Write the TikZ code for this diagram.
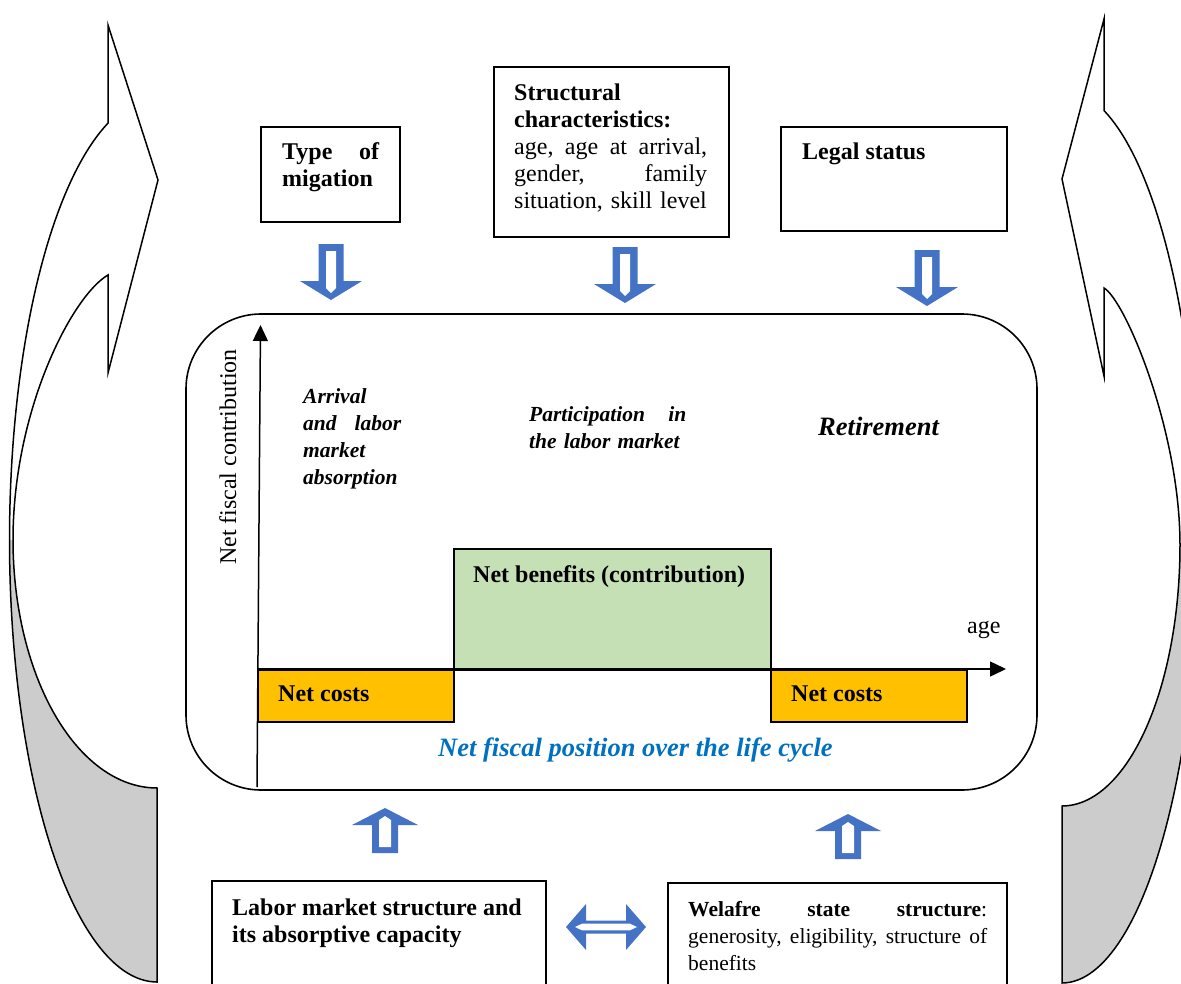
\documentclass[tikz,border=0pt]{standalone}
\usepackage{fontspec}
\setmainfont{Liberation Serif}
\usetikzlibrary{arrows.meta}
\definecolor{barrow}{HTML}{4472C4}
\definecolor{orng}{HTML}{FFC000}
\definecolor{grn}{HTML}{C5E0B4}
\definecolor{btext}{HTML}{0070C0}
\definecolor{backgray}{HTML}{CCCCCC}
\newcommand\fsA{\fontsize{24}{27}\selectfont}
\newcommand\fsB{\fontsize{21.5}{27}\selectfont}
\newcommand\fsC{\fontsize{26.5}{30}\selectfont}
\begin{document}
\begin{tikzpicture}[x=1pt,y=-1pt,line join=miter,
  box/.style={draw,line width=1.8pt,inner sep=0pt,anchor=north west},
  txt/.style={anchor=north west,inner sep=0pt,align=left,font=\fsA},
  itx/.style={anchor=north west,inner sep=0pt,align=left,font=\fsB\bfseries\itshape},
  lbl/.style={anchor=base west,inner sep=0pt,font=\fsA},
  lw/.style={line width=1.5pt},
  ax/.style={line width=1.5pt,-{Triangle[length=16pt,width=15pt]}}
]
\useasboundingbox (0,0) rectangle (1181,983);
\clip (0,0) rectangle (1181,983);

% ---------- left curved arrow ----------
\fill[backgray] plot[domain=180:90,samples=50,variable=\t] ({157+144*cos(\t)},{540+248*sin(\t)})
  -- plot[domain=90:180,samples=50,variable=\t] ({157+147.5*cos(\t)},{540+442*sin(\t)}) -- cycle;
\draw[lw] plot[domain=90:250.6,samples=100,variable=\t] ({157+147.5*cos(\t)},{540+442*sin(\t)})
  -- (108,25) -- (158,180) -- (108,373) -- (108,275)
  .. controls (72,296) and (13,410) .. (13,540)
  -- plot[domain=180:90,samples=50,variable=\t] ({157+144*cos(\t)},{540+248*sin(\t)}) -- cycle;

% ---------- right curved arrow ----------
\fill[backgray] plot[domain=0:90,samples=50,variable=\t] ({1062+118*cos(\t)},{545+261*sin(\t)})
  -- plot[domain=90:0,samples=50,variable=\t] ({1062+137*cos(\t)},{536+447*sin(\t)}) -- cycle;
\draw[lw] plot[domain=90:-72.1,samples=100,variable=\t] ({1062+137*cos(\t)},{536+447*sin(\t)})
  -- (1104,19) -- (1062,179) -- (1104,376) -- (1104,288)
  .. controls (1125,300) and (1180,430) .. (1180,545)
  -- plot[domain=0:90,samples=50,variable=\t] ({1062+118*cos(\t)},{545+261*sin(\t)}) -- cycle;

% ---------- top boxes ----------
\node[box,minimum width=139pt,minimum height=95pt] (tombox) at (260,126) {};
\node[txt,font=\fsA\bfseries,text width=97pt] (tomtxt) at (282,140.1) {\strut Type\hfill of\\migation};
\node[box,minimum width=235pt,minimum height=170pt] (scbox) at (493,66) {};
\node[txt,text width=193pt] (sctxt) at (514,81.1) {\strut\textbf{Structural}\\\textbf{characteristics:}\\age,\hfill age\hfill at\hfill arrival,\\gender,\hfill family\\situation, skill level};
\node[box,minimum width=226pt,minimum height=104pt] (lsbox) at (780,126) {};
\node[txt,font=\fsA\bfseries] (lstxt) at (802,140.1) {\strut Legal status};

% ---------- blue down arrows ----------
\foreach \cx/\ty in {331/244, 625/247, 927/250}{
  \begin{scope}[shift={(\cx,\ty)}]
    \fill[barrow] (-12.5,0) -- (12.5,0) -- (12.5,37) -- (31,37) -- (0,56) -- (-31,37) -- (-12.5,37) -- cycle;
    \fill[white] (-5,7) -- (5,7) -- (5,44) -- (0,49) -- (-5,44) -- cycle;
  \end{scope}
}

% ---------- main rounded frame ----------
\draw[line width=1.6pt,rounded corners=75pt] (186,314) rectangle (1037,790);

% ---------- bars ----------
\node[draw,lw,fill=orng,anchor=north west,minimum width=196pt,minimum height=52pt,inner sep=0pt] (nc1) at (257,669) {};
\node[draw,lw,fill=grn,anchor=north west,minimum width=317pt,minimum height=121pt,inner sep=0pt] (nb) at (453,548) {};
\node[draw,lw,fill=orng,anchor=north west,minimum width=196pt,minimum height=52pt,inner sep=0pt] (nc2) at (770,669) {};
\node[lbl] (nc1t) at (278,701) {\bfseries Net costs};
\node[lbl] (nc2t) at (791,701) {\bfseries Net costs};
\node[lbl] (nbt) at (473,582) {\bfseries Net benefits (contribution)};

% ---------- axes ----------
\coordinate (o) at (257,787);
\coordinate (ytop) at (260.5,325);
\coordinate (xs) at (257,669);
\coordinate (xe) at (1006,669);
\draw[ax] (o) -- (ytop);
\draw[ax] (xs) -- (xe);
\node[lbl] (agel) at (967,633) {age};
\node[rotate=90,anchor=base,inner sep=0pt,font=\fsA] (yl) at (236,457) {Net fiscal contribution};

% ---------- phase labels ----------
\node[itx,text width=98pt] (arr) at (303,384.1) {\strut Arrival\\and\hfill labor\\market\\absorption};
\node[itx,text width=157pt] (part) at (529,402.1) {\strut Participation\hfill in\\the labor market};
\node[anchor=base west,inner sep=0pt,font=\fsC\bfseries\itshape] (ret) at (818,435) {Retirement};
\node[anchor=base west,inner sep=0pt,font=\fsC\bfseries\itshape,text=btext] (nfp) at (438,756) {Net fiscal position over the life cycle};

% ---------- blue up arrows ----------
\foreach \cx/\ty in {385/808, 848/814}{
  \begin{scope}[shift={(\cx,\ty)}]
    \fill[barrow] (0,0) -- (33,17) -- (13,17) -- (13,45) -- (-13,45) -- (-13,17) -- (-33,17) -- cycle;
    \fill[white] (0,8) -- (6,12) -- (6,39) -- (-6,39) -- (-6,12) -- cycle;
  \end{scope}
}

% ---------- double arrow ----------
\begin{scope}[shift={(606,927)}]
  \fill[barrow] (-40,0) -- (-20,-23) -- (-20,-6.5) -- (20,-6.5) -- (20,-23) -- (40,0) -- (20,23) -- (20,6.5) -- (-20,6.5) -- (-20,23) -- cycle;
  \fill[white] (-31,0) -- (-24,-3.3) -- (24,-3.3) -- (31,0) -- (24,3.3) -- (-24,3.3) -- cycle;
\end{scope}

% ---------- bottom boxes ----------
\node[box,minimum width=334pt,minimum height=130pt] (lmbox) at (211,880) {};
\node[txt,font=\fsA\bfseries] (lmtxt) at (232,896.1) {\strut Labor market structure and\\its absorptive capacity};
\node[box,minimum width=339pt,minimum height=130pt] (wsbox) at (667,882) {};
\node[txt,font=\fsB,text width=299pt] (wstxt) at (688,897.1) {\strut\textbf{Welafre}\hfill\textbf{state}\hfill\textbf{structure}:\\generosity,\hfill eligibility,\hfill structure\hfill of\\benefits};
\end{tikzpicture}
\end{document}
